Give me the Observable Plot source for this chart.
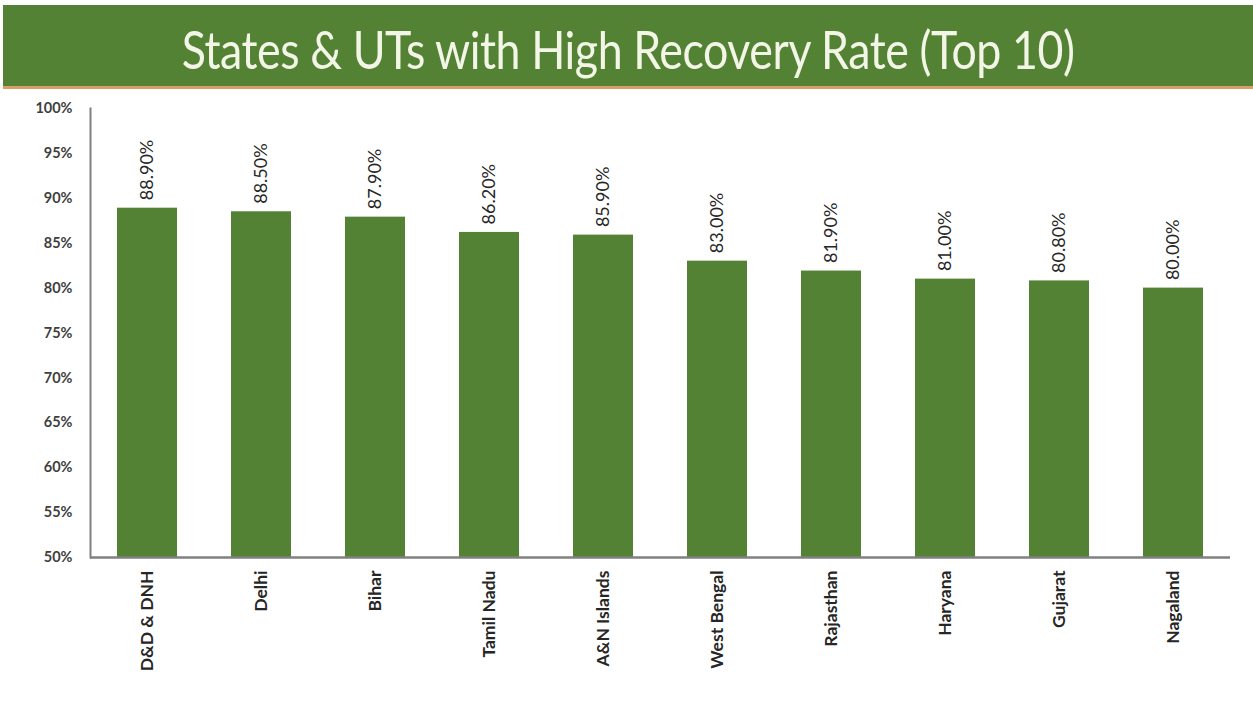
<!DOCTYPE html>
<html>
<head>
<meta charset="utf-8">
<script src="https://cdn.jsdelivr.net/npm/d3@7"></script>
<script src="https://cdn.jsdelivr.net/npm/@observablehq/plot@0.6"></script>
<style>
  html, body { margin: 0; padding: 0; background: #fff; }
  #banner {
    margin: 5px 0 0 3px;
    height: 81px;
    background: #548235;
    border-bottom: 3px solid #d9a066;
    display: flex; align-items: center; justify-content: center;
    color: #f3f6e6;
    font-family: Lato, "Open Sans", sans-serif;
    font-size: 52px;
    letter-spacing: -0.5px;
    overflow: hidden;
  }
  #banner span { display: inline-block; transform: scaleX(0.86); transform-origin: center; margin-top: 6px; white-space: nowrap; }
  #chart svg { display: block; }
</style>
</head>
<body>
<div id="banner"><span>States &amp; UTs with High Recovery Rate (Top 10)</span></div>
<div id="chart"></div>
<script>
const states = ["D&D & DNH", "Delhi", "Bihar", "Tamil Nadu", "A&N Islands", "West Bengal", "Rajasthan", "Haryana", "Gujarat", "Nagaland"];
const recovery = [88.9, 88.5, 87.9, 86.2, 85.9, 83.0, 81.9, 81.0, 80.8, 80.0];
const yTicks = [50, 55, 60, 65, 70, 75, 80, 85, 90, 95, 100];

const data = states.map((s, i) => ({state: s, value: recovery[i]}));

const chart = Plot.plot({
  width: 1253,
  height: 613,
  marginTop: 19,
  marginBottom: 145,
  marginLeft: 90,
  marginRight: 23,
  style: {fontFamily: "Lato, 'Open Sans', sans-serif", color: "#262626", background: "#fff"},
  x: {domain: states, paddingInner: 0.47, paddingOuter: 0.235, label: null},
  y: {domain: [50, 100], label: null},
  marks: [
    Plot.barY(data, {x: "state", y1: 50, y2: "value", fill: "#548235"}),
    Plot.text(data, {
      x: "state", y: "value",
      text: d => d.value.toFixed(2) + "%",
      rotate: -90, textAnchor: "start", dy: -8,
      fontSize: 18, fill: "#262626"
    }),
    Plot.axisY({ticks: yTicks, tickFormat: d => d + "%", tickSize: 0, tickPadding: 18,
      fontSize: 14.5, fontWeight: "bold", fill: "#404040", label: null}),
    Plot.axisX({tickRotate: -90, tickSize: 0, tickPadding: 13, fontSize: 17.5,
      fontWeight: "bold", fill: "#262626", label: null}),
    Plot.frame({anchor: "left", stroke: "#808080", strokeWidth: 2}),
    Plot.ruleY([50], {stroke: "#808080", strokeWidth: 2.5})
  ]
});
document.getElementById("chart").appendChild(chart);
</script>
</body>
</html>
